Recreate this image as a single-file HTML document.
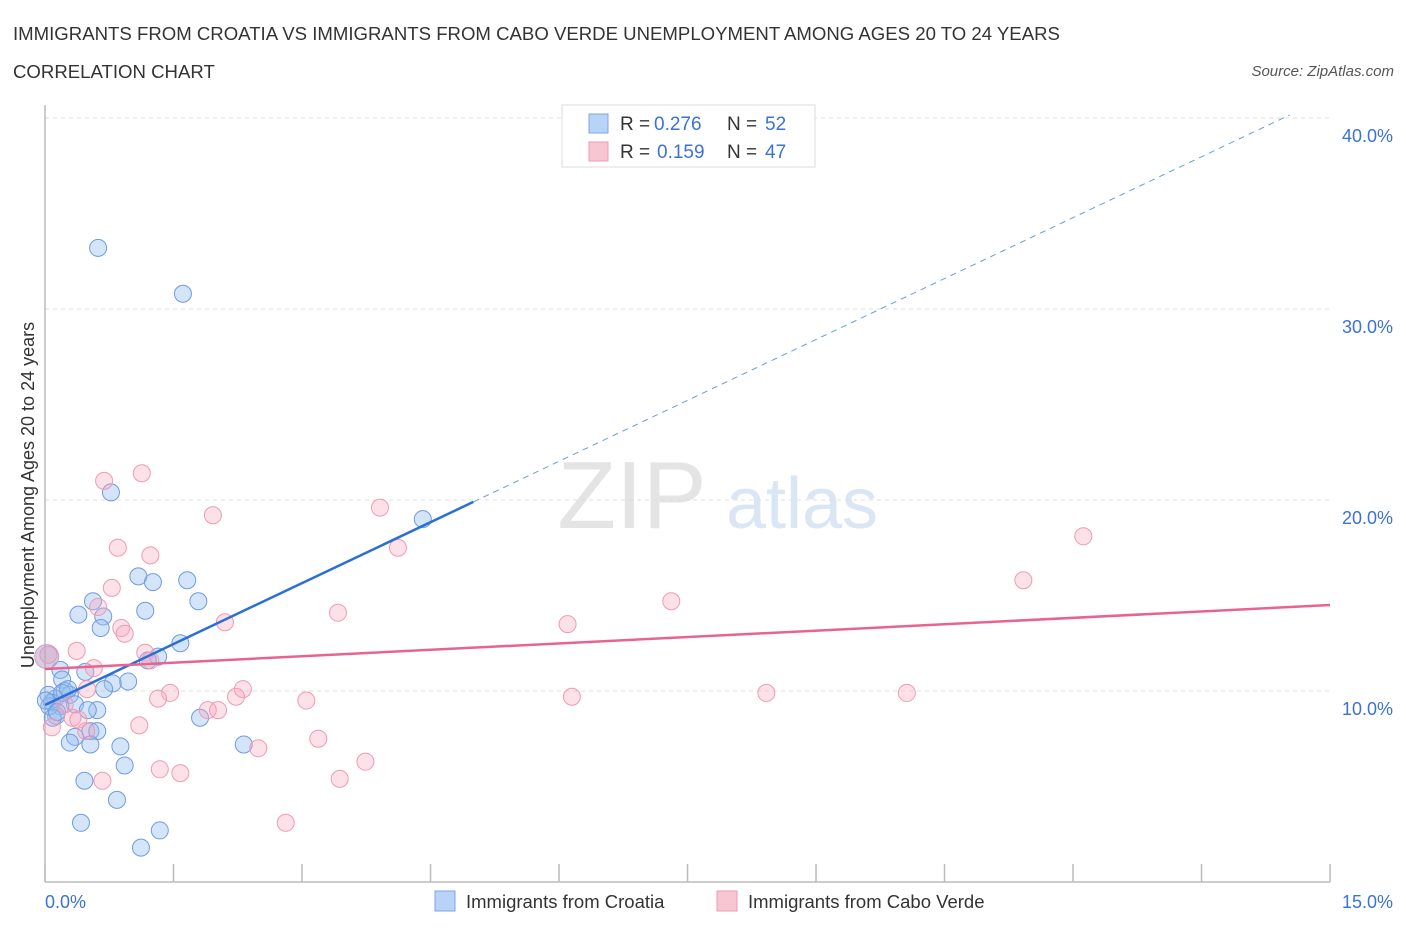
<!DOCTYPE html>
<html><head><meta charset="utf-8"><style>
body{margin:0;background:#fff;font-family:"Liberation Sans",sans-serif;}
svg text{font-family:"Liberation Sans",sans-serif;}
</style></head><body>
<svg width="1406" height="930" xmlns="http://www.w3.org/2000/svg">
<text x="13" y="40" font-size="18.6" fill="#333">IMMIGRANTS FROM CROATIA VS IMMIGRANTS FROM CABO VERDE UNEMPLOYMENT AMONG AGES 20 TO 24 YEARS</text>
<text x="13" y="78" font-size="18.6" fill="#333">CORRELATION CHART</text>
<text x="1394" y="76" font-size="15" fill="#555" font-style="italic" text-anchor="end">Source: ZipAtlas.com</text>
<g>
<text x="632" y="528" font-size="96" fill="#e4e4e4" text-anchor="middle" font-family="Liberation Serif,serif">ZIP</text>
<text x="802" y="528" font-size="72" fill="#dbe6f5" text-anchor="middle">atlas</text>
</g>
<g id="grid"></g>
<g id="axes"></g>
<g id="pts"></g>
<g id="trends"></g>
<text transform="translate(34,495) rotate(-90)" font-size="18" fill="#333" text-anchor="middle">Unemployment Among Ages 20 to 24 years</text>
<text x="45" y="908" font-size="18" fill="#3a72d6">0.0%</text>
<text x="1393" y="908" font-size="18" fill="#3a72d6" text-anchor="end">15.0%</text>
<g>
<rect x="562" y="105" width="253" height="62" fill="#fff" stroke="#ddd"/>
<rect x="589" y="114" width="19" height="19" fill="#b9d3f6" stroke="#7aa6e6"/>
<text x="620" y="130" font-size="19" fill="#333">R =</text>
<text x="654" y="130" font-size="19" fill="#3a72d6">0.276</text>
<text x="727" y="130" font-size="19" fill="#333">N =</text>
<text x="765" y="130" font-size="19" fill="#3a72d6">52</text>
<rect x="589" y="142" width="19" height="19" fill="#f8c5d3" stroke="#ee9ab2"/>
<text x="620" y="158" font-size="19" fill="#333">R =</text>
<text x="657" y="158" font-size="19" fill="#3a72d6">0.159</text>
<text x="727" y="158" font-size="19" fill="#333">N =</text>
<text x="765" y="158" font-size="19" fill="#3a72d6">47</text>
</g>
<g>
<rect x="435" y="891" width="20" height="20" fill="#b9d3f6" stroke="#7aa6e6"/>
<text x="466" y="908" font-size="18.5" fill="#333">Immigrants from Croatia</text>
<rect x="717" y="891" width="20" height="20" fill="#f8c5d3" stroke="#ee9ab2"/>
<text x="748" y="908" font-size="18.5" fill="#333">Immigrants from Cabo Verde</text>
</g>
</svg>
<script>
const yTicks=[10,20,30,40];
const yTickLabels=["10.0%","20.0%","30.0%","40.0%"];
const xTicks=[0,1.5,3,4.5,6,7.5,9,10.5,12,13.5,15];
const croatiaX=[0.62,1.61,0.77,4.41,1.09,1.26,1.66,0.56,1.17,1.79,0.39,0.68,0.65,1.58,1.32,1.20,0.18,0.47,0.20,0.97,0.79,0.69,0.23,0.29,0.12,0.04,0.08,0.35,0.18,0.61,0.50,0.13,1.81,0.53,0.61,0.35,0.29,0.53,0.88,2.32,0.93,0.46,0.84,0.42,1.34,1.12,0.05,0.01,0.09,0.20,0.14,0.27];
const croatiaY=[33.2,30.8,20.4,19.0,16.0,15.7,15.8,14.7,14.2,14.7,14.0,13.9,13.3,12.5,11.8,11.6,11.1,11.0,10.6,10.5,10.4,10.1,10.0,9.8,9.6,9.8,9.4,9.3,9.2,9.0,9.0,8.7,8.6,7.9,7.9,7.6,7.3,7.2,7.1,7.2,6.1,5.3,4.3,3.1,2.7,1.8,9.2,9.5,8.6,9.9,8.9,10.1];
const capeX=[1.13,0.69,1.96,3.91,0.85,1.23,4.12,12.12,11.42,7.31,0.78,0.62,3.42,2.10,0.89,0.93,6.10,0.37,1.17,0.57,0.04,1.23,0.49,1.46,1.32,2.31,2.23,3.05,6.15,8.42,10.06,1.90,2.02,0.32,1.10,0.08,0.48,3.19,2.49,1.34,1.58,3.74,3.44,0.67,2.81,0.39,0.23];
const capeY=[21.4,21.0,19.2,19.6,17.5,17.1,17.5,18.1,15.8,14.7,15.4,14.4,14.1,13.6,13.3,13.0,13.5,12.1,12.0,11.2,11.9,11.6,10.1,9.9,9.6,10.1,9.7,9.5,9.7,9.9,9.9,9.0,9.0,8.6,8.2,8.1,7.9,7.5,7.0,5.9,5.7,6.3,5.4,5.3,3.1,8.5,9.3];
const NS="http://www.w3.org/2000/svg";
const X=v=>45+v*85.67, Y=v=>882-v*19.1;
function mk(t,a,p){const e=document.createElementNS(NS,t);for(const k in a)e.setAttribute(k,a[k]);document.getElementById(p).appendChild(e);return e;}
yTicks.forEach((t,i)=>{
 const g=mk('line',{x1:45,x2:1330,y1:Y(t),y2:Y(t),stroke:'#ddd','stroke-dasharray':'4,4'},'grid');
 
 
 const l=mk('text',{x:1393,y:Y(t)+24,'font-size':18,fill:'#3a72d6','text-anchor':'end'},'grid');
 l.textContent=yTickLabels[i];
 
 
});
const xa=mk('line',{x1:45,x2:1330,y1:882,y2:882,stroke:'#bbb','stroke-width':1.5},'axes');


const ya=mk('line',{x1:45,x2:45,y1:105,y2:882,stroke:'#bbb','stroke-width':1.5},'axes');


xTicks.forEach(t=>{
 const e=mk('line',{x1:X(t),x2:X(t),y1:864,y2:882,stroke:'#bbb','stroke-width':1.5},'axes');
 
 
});
croatiaX.forEach((x,i)=>{
 const c=mk('circle',{cx:X(x),cy:Y(croatiaY[i]),r:8.5,fill:'rgba(150,190,240,0.4)',stroke:'#6f9be0','stroke-width':1},'pts');
 
 
});
capeX.forEach((x,i)=>{
 const c=mk('circle',{cx:X(x),cy:Y(capeY[i]),r:8.5,fill:'rgba(245,170,192,0.35)',stroke:'#f09ab3','stroke-width':1},'pts');
 
 
});
const big=mk('circle',{cx:X(0.02),cy:Y(11.8),r:12,fill:'rgba(190,160,200,0.55)',stroke:'#c9a0c0','stroke-width':1},'pts');


const bInt=9.27,bSlope=(19.9-9.27)/5.0;
const bl=mk('line',{x1:X(0),y1:Y(bInt),x2:X(5),y2:Y(bInt+bSlope*5),stroke:'#2a6fd6','stroke-width':2.5},'trends');


const bd=mk('line',{x1:X(5),y1:Y(bInt+bSlope*5),x2:X(14.53),y2:Y(bInt+bSlope*14.53),stroke:'#6a9ae0','stroke-width':1,'stroke-dasharray':'6,5'},'trends');


const pl=mk('line',{x1:X(0),y1:Y(11.15),x2:X(15),y2:Y(14.5),stroke:'#e8648f','stroke-width':2.5},'trends');


</script>
</body></html>
